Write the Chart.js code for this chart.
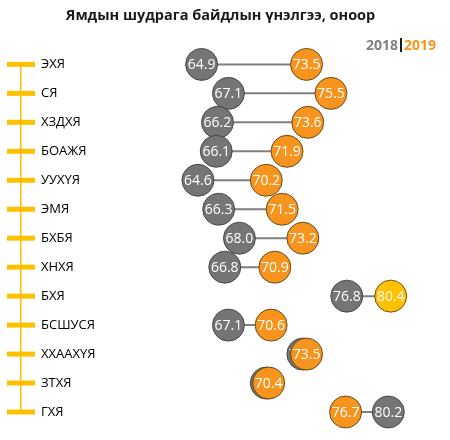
<!DOCTYPE html>
<html>
<head>
<meta charset="utf-8">
<script src="https://cdn.jsdelivr.net/npm/chart.js@4.4.0/dist/chart.umd.min.js"></script>
<style>
body { margin: 0; background: #fff; }
#wrap { position: relative; width: 450px; height: 440px; }
#legend { position: absolute; left: 366px; top: 36px; font: bold 14px "Open Sans"; line-height: 18px; white-space: nowrap; }
#legend .y18 { color: #7f7f7f; }
#legend .y19 { color: #F7941D; }
#legend .sep { display: inline-block; width: 2px; height: 14px; background: #1a1a1a; margin: 0 2px 0 2px; vertical-align: -2px; }
</style>
</head>
<body>
<div id="wrap">
  <canvas id="myChart" width="450" height="440"></canvas>
  <div id="legend"><span class="y18">2018</span><span class="sep"></span><span class="y19">2019</span></div>
</div>
<script>
// chart data
var categories = ["ЭХЯ", "СЯ", "ХЗДХЯ", "БОАЖЯ", "УУХҮЯ", "ЭМЯ", "БХБЯ", "ХНХЯ", "БХЯ", "БСШУСЯ", "ХХААХҮЯ", "ЗТХЯ", "ГХЯ"];
var score2018 = [64.9, 67.1, 66.2, 66.1, 64.6, 66.3, 68.0, 66.8, 76.8, 67.1, 73.2, 70.2, 80.2];
var score2019 = [73.5, 75.5, 73.6, 71.9, 70.2, 71.5, 73.2, 70.9, 80.4, 70.6, 73.5, 70.4, 76.7];
var titleText = "Ямдын шудрага байдлын үнэлгээ, оноор";

const _x_min = 50.1;
const _x_max = 83.7;
const _orange = "#F7941D";
const _yellow = "#FFC000";
const _gray = "#767575";

// white numbers inside the circles, drawn right after each dataset so later circles cover them
const valueLabels = {
    id: "valueLabels",
    afterDatasetDraw(chart, args) {
        var ds = chart.data.datasets[args.index];
        if (!ds.showValues) return;
        var ctx = chart.ctx;
        ctx.save();
        ctx.font = '14px "Open Sans"';
        ctx.fillStyle = "#ffffff";
        ctx.textAlign = "center";
        ctx.textBaseline = "middle";
        args.meta.data.forEach((pt, i) => {
            ctx.fillText(ds.data[i].x.toFixed(1), pt.x, pt.y + 1);
        });
        ctx.restore();
    }
};

var top2019 = Math.max(...score2019);
var datasets = [];

datasets.push({
    label: "2019",
    data: categories.map((c, i) => ({x: score2019[i], y: c})),
    showLine: false,
    showValues: true,
    pointRadius: 16,
    pointHoverRadius: 16,
    pointBackgroundColor: score2019.map(v => v === top2019 ? _yellow : _orange),
    pointBorderColor: "rgba(80,60,20,0.85)",
    pointBorderWidth: 1,
    clip: false
});

datasets.push({
    label: "2018",
    data: categories.map((c, i) => ({x: score2018[i], y: c})),
    showLine: false,
    showValues: true,
    pointRadius: 16,
    pointHoverRadius: 16,
    pointBackgroundColor: _gray,
    pointBorderColor: "rgba(60,60,60,0.85)",
    pointBorderWidth: 1,
    clip: false
});

// connector for each row
categories.forEach((c, i) => {
    datasets.push({
        label: "link " + c,
        data: [{x: score2018[i], y: c}, {x: score2019[i], y: c}],
        borderColor: "#7f7f7f",
        borderWidth: 2,
        pointRadius: 0,
        clip: false
    });
});

// yellow tick bars on the left line
datasets.push({
    label: "ticks",
    data: categories.map(c => ({x: _x_min, y: c})),
    showLine: false,
    pointStyle: "line",
    pointRadius: 14,
    pointHoverRadius: 14,
    pointBorderColor: _yellow,
    pointBorderWidth: 5,
    clip: false
});

var ctx = document.getElementById("myChart");
var _chart = new Chart(ctx, {
    type: "line",
    data: {
        labels: categories,
        datasets: datasets
    },
    plugins: [valueLabels],
    options: {
        responsive: false,
        devicePixelRatio: 1,
        animation: false,
        layout: {
            padding: {left: 1, right: 10, top: 0, bottom: 28}
        },
        plugins: {
            legend: {display: false},
            tooltip: {enabled: false},
            title: {
                display: true,
                text: titleText,
                color: "#1a1a1a",
                font: {family: "Open Sans", size: 14.5, weight: "bold"},
                padding: {top: 7, bottom: 40}
            }
        },
        scales: {
            x: {
                type: "linear",
                display: false,
                min: _x_min,
                max: _x_max
            },
            y: {
                type: "category",
                position: "left",
                offset: false,
                grid: {display: true, drawOnChartArea: false, drawTicks: false},
                border: {display: true, color: _yellow, width: 1.5},
                ticks: {
                    mirror: true,
                    padding: 20,
                    color: "#000000",
                    font: {family: "Open Sans", size: 13}
                },
                afterFit: function(scale) {
                    scale.width = 20;
                }
            }
        }
    }
});
</script>
</body>
</html>
